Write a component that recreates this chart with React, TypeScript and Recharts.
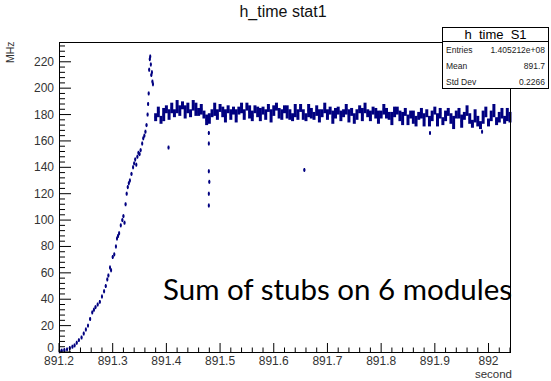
import React from "react";
import { ScatterChart, Scatter, XAxis, YAxis, ErrorBar } from "recharts";

const NAVY = "#000080";
const FONT = "'Liberation Sans', Arial, sans-serif";

// rising edge of the rate, sparse bins (second, MHz)
const riseX = [
  891.201, 891.205, 891.21, 891.215, 891.22, 891.225, 891.229, 891.233, 891.237, 891.242,
  891.246, 891.25, 891.254, 891.258, 891.262, 891.265, 891.268, 891.272, 891.276, 891.28,
  891.284, 891.287, 891.29, 891.292, 891.295, 891.297, 891.3, 891.303, 891.306, 891.308,
  891.31, 891.312, 891.315, 891.318, 891.32, 891.322, 891.324, 891.326, 891.328, 891.33,
  891.332, 891.335, 891.338, 891.34, 891.342, 891.344, 891.346, 891.348, 891.35, 891.352,
  891.355, 891.357, 891.359, 891.361, 891.363, 891.365, 891.366, 891.367, 891.368, 891.369,
  891.37, 891.371, 891.372, 891.373, 891.374, 891.375,
];
const riseY = [
  0.5, 1, 1.5, 2, 3, 4, 5, 7, 9, 11,
  14, 17, 20, 25, 30, 32, 34, 36, 38, 42,
  46, 50, 55, 58, 64, 62, 72, 74, 80, 86,
  88, 90, 96, 100, 103, 98, 112, 120, 125, 128,
  130, 135, 140, 143, 146, 142, 148, 151, 150, 153,
  158, 162, 164, 167, 172, 180, 188, 196, 214, 222,
  224, 218, 210, 212, 205, 203,
];

// isolated bins below the plateau
const outlierX = [891.404, 891.479, 891.479, 891.479, 891.48, 891.479, 891.479, 891.657, 891.891, 891.988];
const outlierY = [155, 166, 158, 137, 129, 120, 111, 138, 166, 167];

// plateau, one value per 0.005 s starting at 891.38
const bandStart = 891.38;
const bandStep = 0.005;
const bandY = [
  178, 182, 176, 180, 184, 180, 185, 181, 186, 183,
  187, 182, 185, 181, 187, 184, 182, 184, 180, 176,
  177, 181, 184, 180, 185, 182, 179, 184, 180, 183,
  179, 183, 185, 180, 186, 182, 179, 184, 182, 180,
  183, 180, 185, 179, 183, 186, 181, 180, 184, 182,
  180, 178, 183, 180, 185, 180, 178, 183, 181, 179,
  183, 179, 181, 185, 180, 183, 178, 181, 183, 179,
  181, 184, 179, 182, 177, 180, 184, 180, 185, 181,
  179, 183, 181, 178, 180, 184, 181, 179, 177, 182,
  183, 179, 177, 182, 176, 180, 178, 175, 179, 181,
  176, 181, 175, 179, 183, 176, 181, 175, 179, 182,
  177, 174, 180, 181, 175, 179, 183, 177, 173, 179,
  175, 172, 178, 182, 174, 179, 183, 175, 178, 181,
  176, 180, 178,
];
const bandErr = [
  3, 4, 3, 5, 3, 4, 4, 3, 5, 4,
  3, 5, 4, 3, 4, 5, 3, 4, 3, 4,
  4, 3, 5, 4, 3, 4, 5, 3, 4, 3,
  5, 3, 4, 4, 3, 5, 4, 3, 4, 5,
  3, 4, 3, 5, 4, 3, 4, 4, 3, 5,
  4, 3, 5, 4, 3, 4, 3, 5, 4, 3,
  4, 5, 3, 4, 4, 3, 5, 4, 3, 4,
  3, 4, 5, 3, 4, 4, 3, 5, 4, 3,
  4, 3, 4, 5, 3, 4, 4, 3, 5, 4,
  3, 4, 5, 3, 4, 3, 5, 4, 3, 4,
  5, 3, 4, 4, 3, 5, 4, 3, 4, 3,
  4, 5, 3, 4, 5, 3, 4, 4, 3, 5,
  4, 3, 5, 4, 3, 4, 5, 3, 4, 4,
  3, 5, 4,
];

const xMajor = [891.2, 891.3, 891.4, 891.5, 891.6, 891.7, 891.8, 891.9, 892.0];
const yMajor = [0, 20, 40, 60, 80, 100, 120, 140, 160, 180, 200, 220];

const stats = [
  ["Entries", "1.405212e+08"],
  ["Mean", "891.7"],
  ["Std Dev", "0.2266"],
];

const riseData = riseX.map((x, i) => ({ x, y: riseY[i], err: 1.5 }));
const outlierData = outlierX.map((x, i) => ({ x, y: outlierY[i], err: 1.5 }));
const bandData = bandY.map((y, i) => ({ x: bandStart + i * bandStep, y, err: bandErr[i] }));

const xTicks = Array.from({ length: 43 }, (_, i) => +(891.2 + i * 0.02).toFixed(2));
const yTicks = Array.from({ length: 59 }, (_, i) => i * 4);

const isMajorX = (v: number) => xMajor.some((m) => Math.abs(m - v) < 1e-6);

function XTick(props: any) {
  const { x, y, payload } = props;
  const major = isMajorX(payload.value);
  return (
    <g>
      <line x1={x} x2={x} y1={y} y2={y - (major ? 9 : 4.5)} stroke="#000" />
      {major && (
        <text x={x} y={y + 13} textAnchor="middle" fontSize={12} fontFamily={FONT} fill="#333">
          {String(+payload.value.toFixed(2))}
        </text>
      )}
    </g>
  );
}

function YTick(props: any) {
  const { x, y, payload } = props;
  const major = yMajor.includes(payload.value);
  // the zero label sits a little higher so it clears 891.2
  const dy = payload.value === 0 ? 0 : 4;
  return (
    <g>
      <line x1={x} x2={x + (major ? 12 : 6)} y1={y} y2={y} stroke="#000" />
      {major && (
        <text x={x - 5} y={y + dy} textAnchor="end" fontSize={12} fontFamily={FONT} fill="#333">
          {payload.value}
        </text>
      )}
    </g>
  );
}

const dot = (p: any) => <rect x={p.cx - 1} y={p.cy - 1} width={2} height={2} fill={NAVY} />;

export default function App() {
  return (
    <div style={{ position: "absolute", left: 0, top: 0, width: 551, height: 381, background: "#fff", fontFamily: FONT }}>
      <ScatterChart width={551} height={381} margin={{ top: 42, right: 41, bottom: 28, left: 58 }}>
        <XAxis
          dataKey="x"
          type="number"
          domain={[891.2, 892.04]}
          allowDataOverflow
          ticks={xTicks}
          interval={0}
          height={1}
          tickSize={0}
          tickMargin={0}
          axisLine={false}
          tickLine={false}
          tick={(p: any) => <XTick {...p} />}
        />
        <YAxis
          dataKey="y"
          type="number"
          domain={[0, 235]}
          allowDataOverflow
          ticks={yTicks}
          interval={0}
          width={1}
          tickSize={0}
          tickMargin={0}
          axisLine={false}
          tickLine={false}
          tick={(p: any) => <YTick {...p} />}
        />
        <Scatter data={bandData} shape={dot} isAnimationActive={false}>
          <ErrorBar dataKey="err" direction="y" width={0} stroke={NAVY} strokeWidth={3} />
        </Scatter>
        <Scatter data={riseData} shape={dot} isAnimationActive={false}>
          <ErrorBar dataKey="err" direction="y" width={0} stroke={NAVY} strokeWidth={1.5} />
        </Scatter>
        <Scatter data={outlierData} shape={dot} isAnimationActive={false}>
          <ErrorBar dataKey="err" direction="y" width={0} stroke={NAVY} strokeWidth={1.5} />
        </Scatter>
      </ScatterChart>

      {/* frame */}
      <div style={{ position: "absolute", left: 59, top: 42, width: 452, height: 311, border: "1px solid #000", boxSizing: "border-box", pointerEvents: "none" }} />

      <div style={{ position: "absolute", left: 183, top: 3, width: 200, textAlign: "center", fontSize: 16, color: "#111" }}>h_time stat1</div>

      <div style={{ position: "absolute", left: 4, top: 63, transform: "rotate(-90deg)", transformOrigin: "left top", fontSize: 10.5, color: "#333" }}>MHz</div>
      <div style={{ position: "absolute", right: 39, top: 368, fontSize: 11.5, color: "#333" }}>second</div>

      <div style={{ position: "absolute", left: 163, top: 272, fontFamily: "Lato, sans-serif", fontSize: 29.5, lineHeight: "34px", color: "#000", whiteSpace: "nowrap" }}>
        Sum of stubs on 6 modules
      </div>

      {/* stats box */}
      <div style={{ position: "absolute", left: 442, top: 27, width: 107, height: 62, border: "1px solid #000", boxSizing: "border-box", background: "#fff" }}>
        <div style={{ height: 13, lineHeight: "13px", textAlign: "center", fontSize: 13, borderBottom: "1px solid #000" }}>h_time_S1</div>
        {stats.map(([k, v]) => (
          <div key={k} style={{ height: 16, lineHeight: "16px", display: "flex", justifyContent: "space-between", padding: "0 3px", fontSize: 8.5, color: "#222" }}>
            <span>{k}</span>
            <span>{v}</span>
          </div>
        ))}
      </div>
    </div>
  );
}
